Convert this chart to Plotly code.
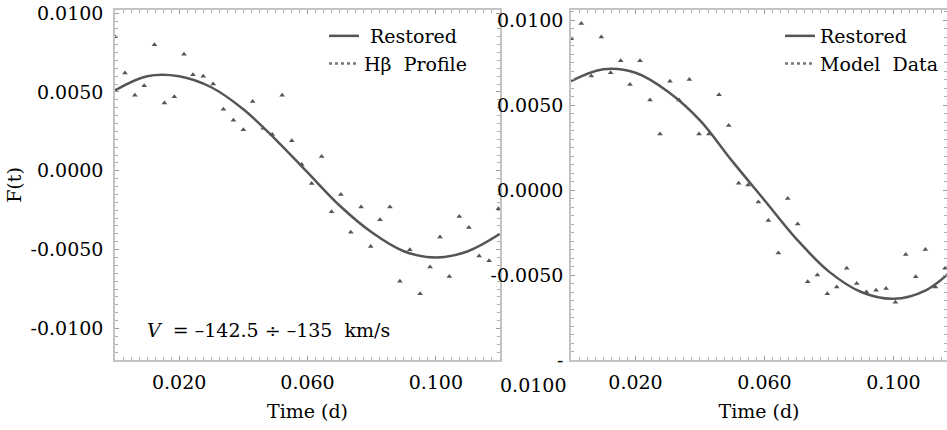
import plotly.graph_objects as go

# ---------------- data ----------------
t_left = [0.0000, 0.0031, 0.0062, 0.0091, 0.0123, 0.0154, 0.0185, 0.0215, 0.0243, 0.0275,
          0.0306, 0.0338, 0.0369, 0.0400, 0.0429, 0.0462, 0.0490, 0.0521, 0.0551, 0.0582,
          0.0613, 0.0644, 0.0675, 0.0704, 0.0735, 0.0767, 0.0797, 0.0826, 0.0857, 0.0888,
          0.0919, 0.0951, 0.0982, 0.1013, 0.1042, 0.1073, 0.1103, 0.1135, 0.1166, 0.1195]
f_left = [0.0085, 0.0062, 0.0048, 0.0054, 0.0080, 0.0043, 0.0047, 0.0074, 0.0061, 0.0060,
          0.0055, 0.0039, 0.0032, 0.0026, 0.0044, 0.0027, 0.0023, 0.0048, 0.0019, 0.0004,
          -0.0008, 0.0009, -0.0026, -0.0015, -0.0039, -0.0023, -0.0048, -0.0031, -0.0023, -0.0070,
          -0.0050, -0.0078, -0.0061, -0.0042, -0.0067, -0.0029, -0.0036, -0.0054, -0.0057, -0.0024]

t_right = [0.0001, 0.0032, 0.0063, 0.0094, 0.0123, 0.0154, 0.0183, 0.0214, 0.0245, 0.0276,
           0.0307, 0.0335, 0.0367, 0.0397, 0.0428, 0.0459, 0.0489, 0.0520, 0.0549, 0.0581,
           0.0612, 0.0643, 0.0672, 0.0703, 0.0734, 0.0764, 0.0795, 0.0824, 0.0855, 0.0886,
           0.0916, 0.0946, 0.0977, 0.1006, 0.1038, 0.1069, 0.1099, 0.1130, 0.1160]
f_right = [0.0089, 0.0098, 0.0067, 0.0090, 0.0069, 0.0076, 0.0062, 0.0076, 0.0053, 0.0033,
           0.0064, 0.0053, 0.0065, 0.0033, 0.0033, 0.0056, 0.0038, 0.0004, 0.0003, -0.0007,
           -0.0018, -0.0037, -0.0005, -0.0020, -0.0054, -0.0050, -0.0061, -0.0057, -0.0046, -0.0055,
           -0.0060, -0.0059, -0.0058, -0.0066, -0.0038, -0.0051, -0.0035, -0.0057, -0.0046]

curve_t = [0.00, 0.01, 0.02, 0.03, 0.04, 0.05, 0.06, 0.07, 0.08, 0.09, 0.10, 0.11, 0.12]
curve_left = [0.0051, 0.0060, 0.0060, 0.0053, 0.0039, 0.0020, -0.0001, -0.0022, -0.0039,
              -0.0051, -0.0055, -0.0051, -0.0040]
curve_right = [0.0064, 0.0071, 0.0069, 0.0058, 0.0041, 0.0017, -0.0006, -0.0029, -0.0048,
               -0.0060, -0.0064, -0.0059, -0.0044]

x_tickvals = [0.02, 0.06, 0.10]
x_ticktext = ["0.020", "0.060", "0.100"]
y_tickvals = [0.01, 0.005, 0.0, -0.005, -0.01]
y_ticktext_left = ["0.0100", "0.0050", "0.0000", "-0.0050", "-0.0100"]
y_ticktext_right = ["0.0100", "0.0050", "0.0000", "-0.0050", "-"]

# ---------------- figure ----------------
W, H = 947, 430
FONT = "DejaVu Serif"
FS = 19
GRAY = "#555555"

fig = go.Figure()

# left panel
fig.add_trace(go.Scatter(x=curve_t, y=curve_left, mode="lines", line=dict(color=GRAY, width=2.5, shape="spline"),
                         name="\u00a0Restored", legend="legend", xaxis="x", yaxis="y"))
fig.add_trace(go.Scatter(x=[None], y=[None], mode="lines", line=dict(color="#777777", width=2.5, dash="dot"),
                         name="H\u03b2\u00a0 Profile", legend="legend", xaxis="x", yaxis="y"))
fig.add_trace(go.Scatter(x=t_left, y=f_left, mode="markers",
                         marker=dict(symbol="triangle-up", size=5, color=GRAY),
                         showlegend=False, xaxis="x", yaxis="y"))

# right panel
fig.add_trace(go.Scatter(x=curve_t, y=curve_right, mode="lines", line=dict(color=GRAY, width=2.5, shape="spline"),
                         name="Restored", legend="legend2", xaxis="x2", yaxis="y2"))
fig.add_trace(go.Scatter(x=[None], y=[None], mode="lines", line=dict(color="#777777", width=2.5, dash="dot"),
                         name="Model\u00a0 Data", legend="legend2", xaxis="x2", yaxis="y2"))
fig.add_trace(go.Scatter(x=t_right, y=f_right, mode="markers",
                         marker=dict(symbol="triangle-up", size=5, color=GRAY),
                         showlegend=False, xaxis="x2", yaxis="y2"))

def px_x(p):
    return p / W

def px_y(p):
    return 1 - p / H

axis_common = dict(showline=True, linecolor="#c4c4c4", linewidth=1.5, mirror="allticks",
                   ticks="inside", ticklen=4, tickcolor="#9a9a9a", tickwidth=1,
                   showgrid=False, zeroline=False, automargin=False,
                   tickfont=dict(family=FONT, size=FS, color="black"))

xdom_l = [px_x(115), px_x(500)]
xdom_r = [px_x(571), 1.0]
ydom = [px_y(360), px_y(10)]

fig.update_layout(
    width=W, height=H,
    margin=dict(l=0, r=0, t=0, b=0),
    paper_bgcolor="white", plot_bgcolor="white",
    font=dict(family=FONT, size=FS, color="black"),
    xaxis=dict(domain=xdom_l, range=[0, 0.12], tickvals=x_tickvals, ticktext=x_ticktext,
               minor=dict(dtick=0.0025, ticklen=3, tickcolor="#b0b0b0", ticks="inside"),
               title=dict(text="Time (d)", font=dict(family=FONT, size=FS), standoff=13),
               ticklabelstandoff=4, anchor="y", **axis_common),
    yaxis=dict(domain=ydom, range=[-0.0120, 0.0102], tickvals=y_tickvals, ticktext=y_ticktext_left,
               minor=dict(dtick=0.0005, ticklen=3, tickcolor="#b0b0b0", ticks="inside"),
               title=dict(text="F(t)", font=dict(family=FONT, size=FS), standoff=4),
               ticklabelstandoff=6, anchor="x", **axis_common),
    xaxis2=dict(domain=xdom_r, range=[0, 0.1166], tickvals=x_tickvals, ticktext=x_ticktext,
                minor=dict(dtick=0.0025, ticklen=3, tickcolor="#b0b0b0", ticks="inside"),
                title=dict(text="Time (d)", font=dict(family=FONT, size=FS), standoff=13),
                ticklabelstandoff=4, anchor="y2", **axis_common),
    yaxis2=dict(domain=ydom, range=[-0.0100, 0.01059], tickvals=y_tickvals, ticktext=y_ticktext_right,
                minor=dict(dtick=0.0005, ticklen=3, tickcolor="#b0b0b0", ticks="inside"),
                ticklabelstandoff=2, anchor="x2", **axis_common),
    legend=dict(x=px_x(324), y=px_y(17), xanchor="left", yanchor="top", bgcolor="rgba(0,0,0,0)",
                font=dict(family=FONT, size=FS), borderwidth=0),
    legend2=dict(x=px_x(780), y=px_y(17), xanchor="left", yanchor="top", bgcolor="rgba(0,0,0,0)",
                 font=dict(family=FONT, size=FS), borderwidth=0),
    showlegend=True,
    annotations=[
        dict(text="<i>V</i>\u00a0 = \u2013142.5 \u00f7 \u2013135\u00a0 km/s", xref="paper", yref="paper",
             x=px_x(145), y=px_y(330), xanchor="left", yanchor="middle", showarrow=False,
             font=dict(family=FONT, size=FS, color="black")),
        dict(text="0.0100", xref="paper", yref="paper",
             x=px_x(568), y=px_y(385), xanchor="right", yanchor="middle", showarrow=False,
             font=dict(family=FONT, size=FS, color="black")),
    ],
)

fig.write_html("out.html")
